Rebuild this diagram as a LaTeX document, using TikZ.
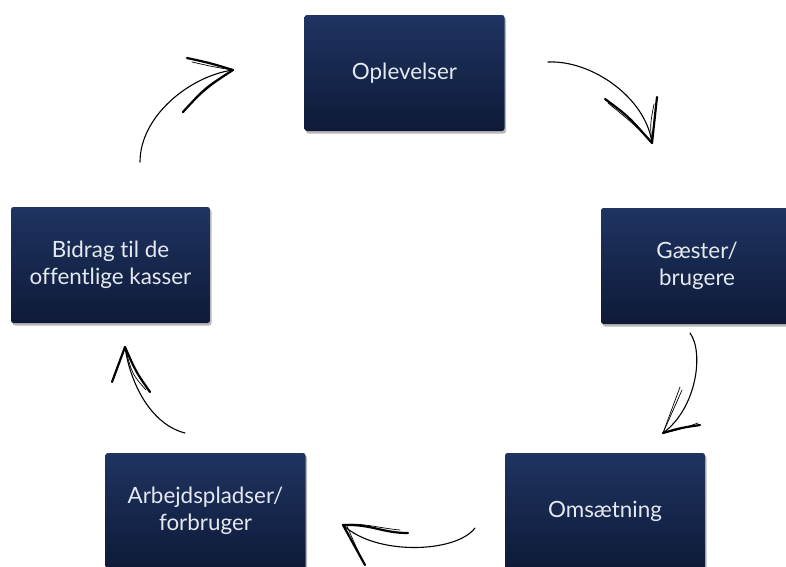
\documentclass[tikz,border=0pt]{standalone}
\usepackage{fontspec}
\setmainfont{Lato}[Ligatures={NoCommon,NoContextual}]
\usetikzlibrary{shadows}
\definecolor{boxtop}{HTML}{1F3462}
\definecolor{boxbot}{HTML}{0E1A37}
\definecolor{boxtext}{HTML}{E4E8EF}
\begin{document}
\begin{tikzpicture}[x=1pt,y=-1pt,
  box/.style={rounded corners=2.5pt, top color=boxtop, bottom color=boxbot, draw=none,
    minimum width=200pt, minimum height=116pt, text=boxtext,
    font=\fontsize{22.4}{27}\selectfont, align=center, inner sep=0pt,
    drop shadow={shadow xshift=1.5pt, shadow yshift=-2.5pt, fill=black!50, opacity=0.55}},
  pen/.style={line width=1.1pt, line cap=round, line join=round, black},
  thinpen/.style={line width=0.7pt, line cap=round, black},
  headpen/.style={line width=2.2pt, line cap=round, black}]
\useasboundingbox (0,0) rectangle (786,566);
\clip (0,0) rectangle (786,566);
\fill[white] (0,0) rectangle (786,566);

\node[box] (opl) at (404.5,73) {Oplevelser};
\node[box, minimum width=192pt] (gae) at (697,266) {Gæster/\\brugere};
\node[box] (oms) at (605,511) {Omsætning};
\node[box] (arb) at (205.5,511) {Arbejdspladser/\\forbruger};
\node[box, minimum width=199pt] (bid) at (110.5,265) {Bidrag til de\\offentlige kasser};

% arrow 1: Oplevelser -> Gaester
\coordinate (a1s) at (548,62);
\coordinate (a1t) at (652,143);
\draw[pen] (a1s) .. controls (592,60) and (646,98) .. (a1t);
\draw[headpen] (605,99) .. controls (628,116) .. (a1t);
\draw[thinpen] (608,103) .. controls (635,125) .. (a1t);
\draw[headpen] (657,97) .. controls (654,120) .. (a1t);
\draw[thinpen] (654,104) .. controls (650,125) .. (a1t);

% arrow 2: Gaester -> Omsaetning
\coordinate (a2s) at (690,333);
\coordinate (a2t) at (663,433);
\draw[pen] (a2s) .. controls (704,352) and (697,408) .. (a2t);
\draw[thinpen] (680,387) -- (a2t);
\draw[thinpen] (682,390) .. controls (672,412) .. (a2t);
\draw[headpen] (700,425) .. controls (680,428) .. (a2t);
\draw[thinpen] (698,423) .. controls (678,430) .. (a2t);

% arrow 3: Omsaetning -> Arbejdspladser
\coordinate (a3s) at (475,528);
\coordinate (a3t) at (343,525);
\draw[pen] (a3s) .. controls (456,553) and (376,556) .. (a3t);
\draw[headpen] (408,533) .. controls (382,533) and (372,524) .. (a3t);
\draw[thinpen] (400,530) .. controls (378,528) and (360,522) .. (a3t);
\draw[headpen] (a3t) -- (365,565);
\draw[thinpen] (346,524) -- (362,560);

% arrow 4: Arbejdspladser -> Bidrag
\coordinate (a4s) at (185,433);
\coordinate (a4t) at (125,347);
\draw[pen] (a4s) .. controls (150,424) and (130,382) .. (a4t);
\draw[headpen] (a4t) -- (112,382);
\draw[headpen] (a4t) .. controls (136,372) .. (150,392);
\draw[thinpen] (a4t) .. controls (132,374) .. (146,390);

% arrow 5: Bidrag -> Oplevelser
\coordinate (a5s) at (140,162);
\coordinate (a5t) at (233,70);
\draw[pen] (a5s) .. controls (140,116) and (190,76) .. (a5t);
\draw[headpen] (187,58) .. controls (210,63) .. (a5t);
\draw[thinpen] (192,62) .. controls (214,67) .. (a5t);
\draw[headpen] (a5t) .. controls (205,88) .. (183,112);
\draw[thinpen] (a5t) .. controls (210,86) .. (190,104);
\end{tikzpicture}
\end{document}
